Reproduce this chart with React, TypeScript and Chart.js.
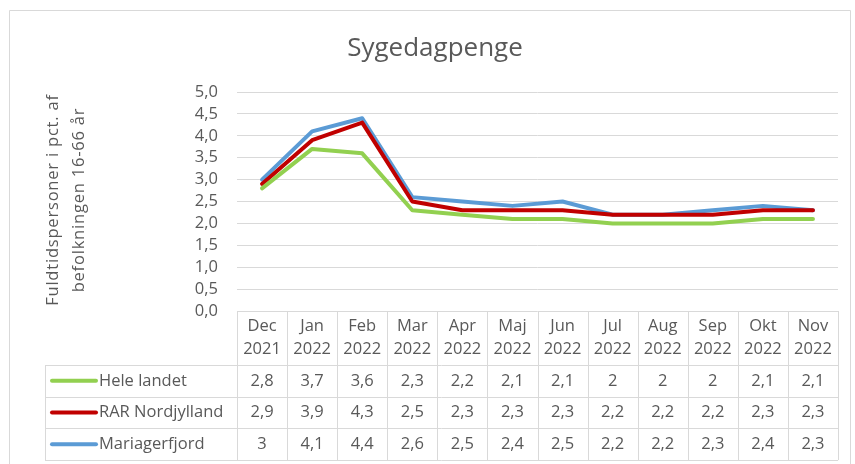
import React, { useEffect, useRef } from "react";
import { Chart, registerables } from "chart.js";

Chart.register(...registerables);

const chartTitle = "Sygedagpenge";
const yTitleLines = ["Fuldtidspersoner i pct. af", "befolkningen 16-66 år"];
const months = ["Dec", "Jan", "Feb", "Mar", "Apr", "Maj", "Jun", "Jul", "Aug", "Sep", "Okt", "Nov"];
const years = ["2021", "2022", "2022", "2022", "2022", "2022", "2022", "2022", "2022", "2022", "2022", "2022"];
const seriesNames = ["Hele landet", "RAR Nordjylland", "Mariagerfjord"];
const heleLandet = [2.8, 3.7, 3.6, 2.3, 2.2, 2.1, 2.1, 2, 2, 2, 2.1, 2.1];
const rarNordjylland = [2.9, 3.9, 4.3, 2.5, 2.3, 2.3, 2.3, 2.2, 2.2, 2.2, 2.3, 2.3];
const mariagerfjord = [3, 4.1, 4.4, 2.6, 2.5, 2.4, 2.5, 2.2, 2.2, 2.3, 2.4, 2.3];
const seriesValues = [heleLandet, rarNordjylland, mariagerfjord];
const seriesColors = ["#92D050", "#C00000", "#5B9BD5"];
const yMin = 0;
const yMax = 5;
const yStep = 0.5;

const FONT = "'Open Sans', sans-serif";
const TEXT = "#595959";
const LINE = "#d9d9d9";

const fmt = (v: number) => String(v).replace(".", ",");

const tablePlugin = {
  id: "excelTable",
  beforeDraw(chart: any) {
    const ctx = chart.ctx;
    ctx.save();
    ctx.fillStyle = "#ffffff";
    ctx.fillRect(0, 0, chart.width, chart.height);
    ctx.restore();
  },
  afterDraw(chart: any) {
    const ctx = chart.ctx as CanvasRenderingContext2D;
    const xs = chart.scales.x;
    const area = chart.chartArea;
    const n = months.length;
    const colW = (area.right - area.left) / n;
    const top = area.bottom;
    const headerBottom = top + 54;
    const rowH = 31.7;
    const legendLeft = 45;
    const tableBottom = headerBottom + rowH * seriesNames.length;

    ctx.save();
    // outer chart border
    ctx.strokeStyle = LINE;
    ctx.lineWidth = 1;
    ctx.beginPath();
    ctx.moveTo(9.5, chart.height + 2);
    ctx.lineTo(9.5, 10.5);
    ctx.lineTo(850.5, 10.5);
    ctx.lineTo(850.5, chart.height + 2);
    ctx.stroke();

    // table grid
    ctx.strokeStyle = LINE;
    ctx.beginPath();
    for (let i = 0; i <= n; i++) {
      const x = Math.round(area.left + i * colW) + 0.5;
      ctx.moveTo(x, top);
      ctx.lineTo(x, tableBottom);
    }
    ctx.moveTo(legendLeft + 0.5, headerBottom);
    ctx.lineTo(legendLeft + 0.5, tableBottom);
    for (let r = 0; r <= seriesNames.length; r++) {
      const y = Math.round(headerBottom + r * rowH) + 0.5;
      ctx.moveTo(legendLeft, y);
      ctx.lineTo(area.right, y);
    }
    ctx.stroke();

    // header
    ctx.fillStyle = TEXT;
    ctx.font = `16.5px ${FONT}`;
    ctx.textAlign = "center";
    ctx.textBaseline = "middle";
    for (let i = 0; i < n; i++) {
      const cx = xs.getPixelForValue(i);
      ctx.fillText(months[i], cx, top + 15);
      ctx.fillText(years[i], cx, top + 38);
    }

    // rows
    for (let r = 0; r < seriesNames.length; r++) {
      const cy = headerBottom + r * rowH + rowH / 2;
      ctx.strokeStyle = seriesColors[r];
      ctx.lineWidth = 4;
      ctx.lineCap = "round";
      ctx.beginPath();
      ctx.moveTo(52, cy);
      ctx.lineTo(96, cy);
      ctx.stroke();
      ctx.fillStyle = TEXT;
      ctx.textAlign = "left";
      ctx.fillText(seriesNames[r], 99, cy);
      ctx.textAlign = "center";
      const vals = seriesValues[r];
      for (let i = 0; i < n; i++) {
        ctx.fillText(fmt(vals[i]), xs.getPixelForValue(i), cy);
      }
    }

    // title
    ctx.fillStyle = TEXT;
    ctx.font = `26px ${FONT}`;
    ctx.textAlign = "center";
    ctx.textBaseline = "alphabetic";
    ctx.fillText(chartTitle, 435, 56);

    // y axis title
    ctx.font = `16.5px ${FONT}`;
    (ctx as any).letterSpacing = "0.8px";
    ctx.textBaseline = "middle";
    const centers = [53, 79];
    yTitleLines.forEach((line, i) => {
      ctx.save();
      ctx.translate(centers[i], 200);
      ctx.rotate(-Math.PI / 2);
      ctx.textAlign = "center";
      ctx.fillText(line, 0, 0);
      ctx.restore();
    });
    ctx.restore();
  },
};

export default function App() {
  const ref = useRef<HTMLCanvasElement | null>(null);
  useEffect(() => {
    if (!ref.current) return;
    const chart = new Chart(ref.current, {
      type: "line",
      data: {
        labels: months.map((m, i) => `${m} ${years[i]}`),
        datasets: seriesNames.map((name, i) => ({
          label: name,
          data: seriesValues[i],
          borderColor: seriesColors[i],
          backgroundColor: seriesColors[i],
          borderWidth: 4,
          pointRadius: 0,
          tension: 0,
          borderJoinStyle: "round" as const,
          borderCapStyle: "round" as const,
        })),
      },
      options: {
        responsive: false,
        animation: false,
        layout: { padding: { top: 92, bottom: 464 - 311, left: 0, right: 855 - 838 } },
        plugins: {
          legend: { display: false },
          title: { display: false },
          tooltip: { enabled: false },
        },
        scales: {
          x: {
            type: "category",
            display: false,
            offset: true,
          },
          y: {
            min: yMin,
            max: yMax,
            afterFit: (s: any) => {
              s.width = 237;
            },
            border: { display: false },
            grid: { color: LINE, lineWidth: 1, drawTicks: false },
            ticks: {
              stepSize: yStep,
              autoSkip: false,
              padding: 19,
              color: TEXT,
              font: { family: FONT, size: 16.5 },
              callback: (v: any) => Number(v).toFixed(1).replace(".", ","),
            },
          },
        },
      },
      plugins: [tablePlugin],
    });
    return () => chart.destroy();
  }, []);
  return (
    <canvas
      ref={ref}
      width={855}
      height={464}
      style={{ position: "absolute", left: 0, top: 0, width: 855, height: 464 }}
    />
  );
}
